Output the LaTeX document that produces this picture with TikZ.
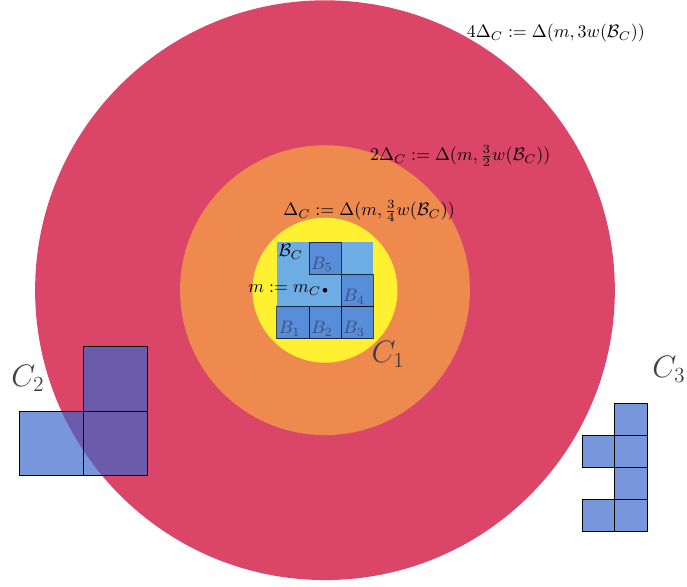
\documentclass[tikz,border=0pt]{standalone}
\usepackage{amsmath}
\definecolor{ringred}{RGB}{219,70,104}
\definecolor{ringorange}{RGB}{239,138,78}
\definecolor{ringyellow}{RGB}{255,240,50}
\definecolor{boxblue}{RGB}{110,172,228}
\definecolor{cellblue}{RGB}{56,100,203}
\begin{document}
\begin{tikzpicture}[x=0.63cm,y=0.63cm]
\tikzset{
  cell/.style={draw=black,thin,fill=cellblue,fill opacity=0.68},
  innercell/.style={cell,fill opacity=0.42,draw opacity=0.7},
  blabel/.style={anchor=south west,inner sep=1pt,text=black!75},
  clabel/.style={font=\LARGE,text=black!75},
  radius/.style={inner sep=1pt}
}
\useasboundingbox (-10.09,-9.19) rectangle (11.24,9.01);

% nested balls around m
\fill[ringred] (0,0) circle (9);
\fill[ringorange] (0,0) circle (4.5);
\fill[ringyellow] (0,0) circle (2.25);
\fill[boxblue] (-1.5,-1.5) rectangle (1.5,1.5);

% cluster C_1
\foreach \x/\y/\i in {-1.5/-1.5/1,-0.5/-1.5/2,0.5/-1.5/3,0.5/-0.5/4,-0.5/0.5/5}{
  \node[blabel] (b\i) at (\x,\y) {$B_\i$};
  \draw[innercell] (\x,\y) rectangle ++(1,1);
}
\node[anchor=north west,inner sep=1pt] (bc) at (-1.5,1.5) {$\mathcal{B}_C$};
\coordinate (m) at (0,0);
\fill (m) circle (1.3pt);
\node[anchor=east,inner sep=2pt] (mlabel) at (m) {$m := m_C$};

% cluster C_2
\foreach \x/\y in {-9.5/-5.75,-7.5/-5.75,-7.5/-3.75}
  \draw[cell] (\x,\y) rectangle ++(2,2);

% cluster C_3
\foreach \x/\y in {8/-5.5,8/-7.5,9/-4.5,9/-5.5,9/-6.5,9/-7.5}
  \draw[cell] (\x,\y) rectangle ++(1,1);

\node[clabel] (c1) at (1.96,-2.0) {$C_1$};
\node[clabel] (c2) at (-9.22,-2.73) {$C_2$};
\node[clabel] (c3) at (10.68,-2.45) {$C_3$};

\node[radius] (r1) at (1.37,2.45) {$\Delta_C := \Delta(m,\frac{3}{4}w(\mathcal{B}_C))$};
\node[radius] (r2) at (4.2,4.16) {$2\Delta_C := \Delta(m,\frac{3}{2}w(\mathcal{B}_C))$};
\node[radius] (r4) at (7.17,7.98) {$4\Delta_C := \Delta(m,3w(\mathcal{B}_C))$};
\end{tikzpicture}
\end{document}
